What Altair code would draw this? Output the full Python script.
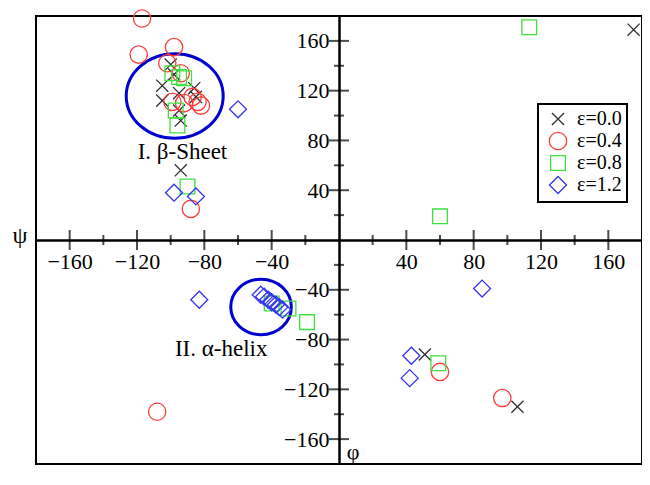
import altair as alt
import pandas as pd

# ---------------- data ----------------
series_names = ["ε=0.0", "ε=0.4", "ε=0.8", "ε=1.2"]

e00_phi = [175, -100, -98, -105, -86, -95, -105, -85, -95, -94, -94, 51, 106]
e00_psi = [169, 141, 133, 124, 122, 118, 112, 115, 104, 96, 56, -92, -134]

e04_phi = [-117, -119, -98, -102, -94, -99, -92, -87, -84, -82, -88, -108, 60, 97]
e04_psi = [178, 149, 155, 142, 134, 111, 110, 115, 111, 108, 25, -138, -106, -127]

e08_phi = [113, 60, -90, -99, -92, -97, -96, -40, -30, -19, 59, -95]
e08_psi = [171, 19, 43, 134, 130, 104, 92, -51, -55, -66, -99, 131]

e12_phi = [-60, -98, -85, -83, -46.5, -44.5, -42, -40, -37.5, -35.5, -33.5, 43, 42, 85]
e12_psi = [105, 38, 35, -48, -44, -45.5, -48, -50, -52, -54, -56, -93, -111, -39]

# highlighted regions (centre phi, centre psi, half-width, half-height in degrees)
region_phi = [-97.6, -46.3]
region_psi = [115.7, -53.8]
region_rx = [28.8, 18.0]
region_ry = [34.0, 22.3]

region_labels = ["I. β-Sheet", "II. α-helix"]
region_label_phi = [-93, -70]
region_label_psi = [65, -93]

major_ticks = [-160, -120, -80, -40, 40, 80, 120, 160]
minor_ticks = [-140, -100, -60, -20, 20, 60, 100, 140]

# ---------------- styling ----------------
W, H = 606, 448
FONT = "Liberation Serif"
colors = ["#303030", "#ff3b3b", "#3fe03f", "#3535f0"]
shapes = [
    "M-0.7,-0.7L0.7,0.7M-0.7,0.7L0.7,-0.7",
    "circle",
    "M-0.85,-0.85L0.85,-0.85L0.85,0.85L-0.85,0.85Z",
    "M-0.98,0L0,-0.98L0.98,0L0,0.98Z",
]

rows = []
for name, ph, ps in zip(series_names,
                        [e00_phi, e04_phi, e08_phi, e12_phi],
                        [e00_psi, e04_psi, e08_psi, e12_psi]):
    for a, b in zip(ph, ps):
        rows.append({"phi": a, "psi": b, "series": name})
points = pd.DataFrame(rows)

xscale = alt.Scale(domain=[-180, 180], nice=False, zero=False)
yscale = alt.Scale(domain=[-180, 180], nice=False, zero=False)

legend = alt.Legend(
    title=None, orient="none", legendX=502, legendY=88,
    labelFont=FONT, labelFontSize=20, labelColor="black",
    symbolSize=300, symbolStrokeWidth=1.3, labelOffset=9, symbolOffset=5,
    rowPadding=0, padding=5, strokeColor="black",
)

xaxis = alt.Axis(orient="bottom", offset=-H / 2, values=major_ticks, ticks=False,
                 tickSize=0, domainWidth=2.5, domainColor="black", grid=False,
                 labelFont=FONT, labelFontSize=22, labelColor="black",
                 labelPadding=11, labelOverlap=False, labelFlush=False, title=None)
yaxis = alt.Axis(orient="left", offset=-W / 2, values=major_ticks, ticks=False,
                 tickSize=0, domainWidth=2.5, domainColor="black", grid=False,
                 labelFont=FONT, labelFontSize=22, labelColor="black",
                 labelPadding=10, labelOverlap=False, labelFlush=False, title=None)

pts = alt.Chart(points).mark_point(filled=False, strokeWidth=1.3, opacity=1).encode(
    x=alt.X("phi:Q", scale=xscale, axis=xaxis),
    y=alt.Y("psi:Q", scale=yscale, axis=yaxis),
    color=alt.Color("series:N", scale=alt.Scale(domain=series_names, range=colors), legend=legend),
    shape=alt.Shape("series:N", scale=alt.Scale(domain=series_names, range=shapes), legend=legend),
    size=alt.value(300),
)

# tick marks crossing the axes
xt_major = alt.Chart(pd.DataFrame({"t": major_ticks})).mark_tick(
    orient="vertical", size=20, thickness=2, color="black").encode(
    x=alt.X("t:Q", scale=xscale), y=alt.datum(0))
xt_minor = alt.Chart(pd.DataFrame({"t": minor_ticks})).mark_tick(
    orient="vertical", size=10, thickness=2, color="black").encode(
    x=alt.X("t:Q", scale=xscale), y=alt.datum(0))
yt_major = alt.Chart(pd.DataFrame({"t": major_ticks})).mark_tick(
    orient="horizontal", size=20, thickness=2, color="black").encode(
    y=alt.Y("t:Q", scale=yscale), x=alt.datum(0))
yt_minor = alt.Chart(pd.DataFrame({"t": minor_ticks})).mark_tick(
    orient="horizontal", size=10, thickness=2, color="black").encode(
    y=alt.Y("t:Q", scale=yscale), x=alt.datum(0))


def ellipse_path(ratio):
    k = 0.5523
    r = ratio
    f = lambda v: f"{v:.4f}"
    return (f"M1,0C1,{f(k*r)},{f(k)},{f(r)},0,{f(r)}"
            f"C{f(-k)},{f(r)},-1,{f(k*r)},-1,0"
            f"C-1,{f(-k*r)},{f(-k)},{f(-r)},0,{f(-r)}"
            f"C{f(k)},{f(-r)},1,{f(-k*r)},1,0Z")


px_per_deg_x = W / 360
px_per_deg_y = H / 360
ellipses = []
for cx, cy, rx, ry in zip(region_phi, region_psi, region_rx, region_ry):
    rx_px = rx * px_per_deg_x
    ry_px = ry * px_per_deg_y
    ellipses.append(
        alt.Chart(pd.DataFrame({"phi": [cx], "psi": [cy]})).mark_point(
            shape=ellipse_path(ry_px / rx_px), filled=False, strokeWidth=3,
            color="#0000d0", size=(2 * rx_px) ** 2, opacity=1).encode(
            x=alt.X("phi:Q", scale=xscale), y=alt.Y("psi:Q", scale=yscale))
    )

region_text = alt.Chart(pd.DataFrame({"phi": region_label_phi, "psi": region_label_psi,
                                      "label": region_labels})).mark_text(
    font=FONT, fontSize=23, color="black", align="center", baseline="alphabetic").encode(
    x=alt.X("phi:Q", scale=xscale), y=alt.Y("psi:Q", scale=yscale), text="label:N")

psi_label = alt.Chart(pd.DataFrame({"s": ["ψ"]})).mark_text(
    font=FONT, fontSize=24, color="black", align="center", baseline="middle", dx=-16, dy=-4).encode(
    x=alt.datum(-180), y=alt.datum(0), text="s:N")
# the page leaves no room below the frame, so phi sits just inside it, beside the axis
phi_label = alt.Chart(pd.DataFrame({"s": ["φ"]})).mark_text(
    font=FONT, fontSize=22, color="black", align="center", baseline="middle", dx=14, dy=-12).encode(
    x=alt.datum(0), y=alt.datum(-180), text="s:N")

chart = alt.layer(
    *ellipses, xt_major, xt_minor, yt_major, yt_minor, pts, region_text, psi_label, phi_label
).properties(
    width=W, height=H,
    autosize=alt.AutoSizeParams(type="none"),
    padding={"left": 28, "top": 8, "right": 0, "bottom": 6},
).configure_view(
    stroke="black", strokeWidth=2
).configure_legend(
    strokeWidth=2
)

chart.save("out.html", embed_options={"renderer": "svg", "actions": False})
